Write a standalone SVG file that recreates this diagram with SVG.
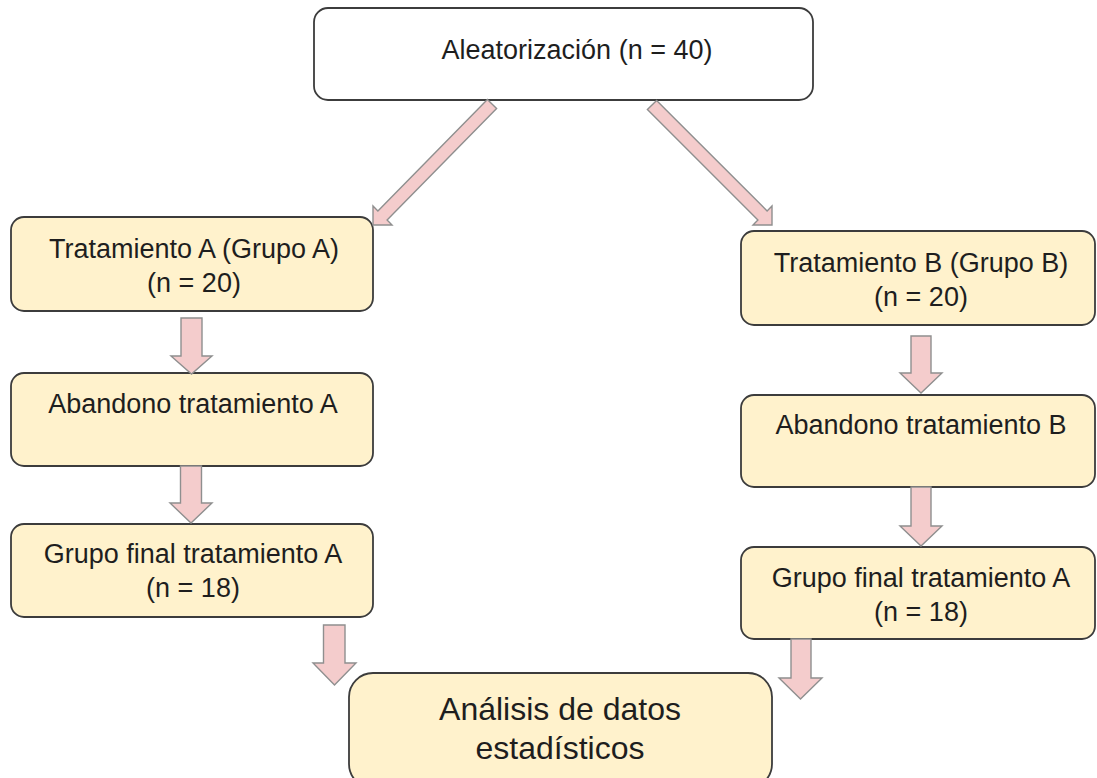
<svg xmlns="http://www.w3.org/2000/svg" width="1097" height="778" viewBox="0 0 1097 778">
  <style>
    .box { fill: #fff2cc; stroke: #3c3c3c; stroke-width: 1.8; }
    .top { fill: #ffffff; stroke: #3c3c3c; stroke-width: 1.8; }
    .arr { fill: #f4cccc; stroke: #8f8f8f; stroke-width: 1.4; stroke-linejoin: miter; }
    text { font-family: "Liberation Sans", Arial, sans-serif; font-size: 27px; fill: #1e1e1e; text-anchor: middle; }
    .big { font-size: 32px; }
  </style>
  <rect width="1097" height="778" fill="#ffffff"/>

  <g id="node-aleatorizacion">
    <rect class="top" x="314" y="8" width="499" height="92" rx="14"/>
    <text x="577" y="59">Aleatorización (n = 40)</text>
  </g>

  <g id="node-tratamiento-a">
    <rect class="box" x="11" y="217" width="362" height="94" rx="13"/>
    <text x="194" y="258">Tratamiento A (Grupo A)</text>
    <text x="194" y="292">(n = 20)</text>
  </g>

  <g id="node-abandono-a">
    <rect class="box" x="11" y="373" width="362" height="93" rx="13"/>
    <text x="193" y="413">Abandono tratamiento A</text>
  </g>

  <g id="node-final-a">
    <rect class="box" x="11" y="524" width="362" height="93" rx="13"/>
    <text x="193" y="563">Grupo final tratamiento A</text>
    <text x="193" y="597">(n = 18)</text>
  </g>

  <g id="node-tratamiento-b">
    <rect class="box" x="741" y="231" width="354" height="94" rx="13"/>
    <text x="921" y="272">Tratamiento B (Grupo B)</text>
    <text x="921" y="306">(n = 20)</text>
  </g>

  <g id="node-abandono-b">
    <rect class="box" x="741" y="395" width="354" height="92" rx="13"/>
    <text x="921" y="434">Abandono tratamiento B</text>
  </g>

  <g id="node-final-b">
    <rect class="box" x="741" y="547" width="354" height="92" rx="13"/>
    <text x="921" y="587">Grupo final tratamiento A</text>
    <text x="921" y="621">(n = 18)</text>
  </g>

  <g id="node-analisis">
    <rect class="box" x="349" y="673" width="423" height="115" rx="24"/>
    <text class="big" x="560" y="720">Análisis de datos</text>
    <text class="big" x="560" y="759">estadísticos</text>
  </g>

  <g id="connectors">
    <polygon class="arr" points="487.4,99.4 496.6,108.6 387.1,220.1 392,225 373,225 373,206 377.9,210.9"/>
    <polygon class="arr" points="656.6,100.4 767.1,210.9 772,206 772,225 753,225 757.9,220.1 647.4,109.6"/>
    <polygon class="arr" points="181,318 202,318 202,356 212,356 191.5,374 171,356 181,356"/>
    <polygon class="arr" points="180.5,466 201.5,466 201.5,503 212,503 191,523 170,503 180.5,503"/>
    <polygon class="arr" points="323.5,625 345,625 345,663 356,663 334.5,685 313,663 323.5,663"/>
    <polygon class="arr" points="911,336 931,336 931,373 942,373 921,393 900,373 911,373"/>
    <polygon class="arr" points="911,487 931,487 931,526 942,526 921,546 900,526 911,526"/>
    <polygon class="arr" points="791,639 811,639 811,678 822,678 800.5,699 779,678 791,678"/>
  </g>
</svg>
